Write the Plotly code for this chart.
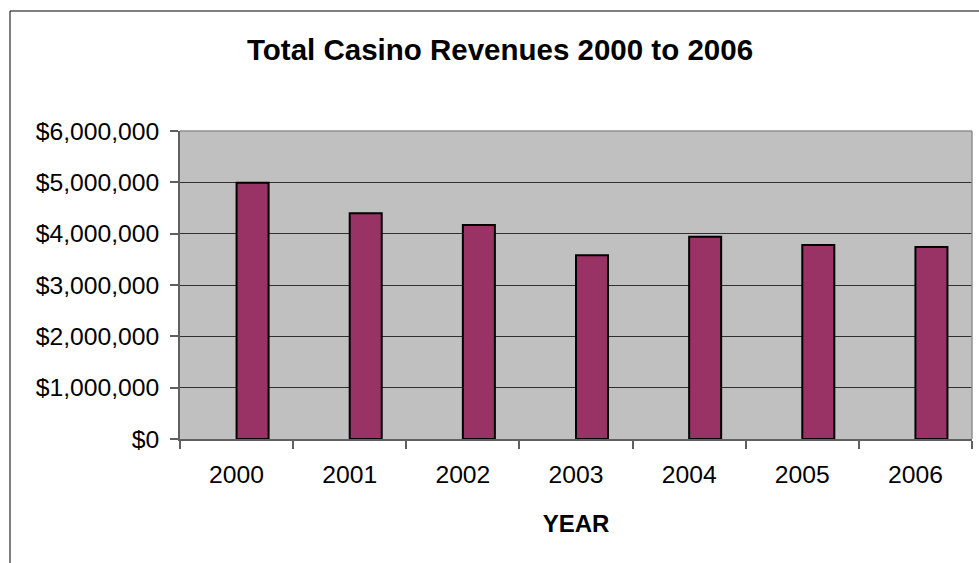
import plotly.graph_objects as go

# Annual casino revenue, in dollars
years = ["2000", "2001", "2002", "2003", "2004", "2005", "2006"]
revenues = [4990000, 4400000, 4170000, 3580000, 3940000, 3780000, 3740000]

y_ticks = [0, 1000000, 2000000, 3000000, 4000000, 5000000, 6000000]
y_tick_labels = ["$0", "$1,000,000", "$2,000,000", "$3,000,000",
                 "$4,000,000", "$5,000,000", "$6,000,000"]

FONT = "Liberation Sans, Arial, sans-serif"
TICK_SIZE = 24.7

fig = go.Figure(
    go.Bar(
        x=years,
        y=revenues,
        width=0.283,
        offset=0,  # bar sits in the right half of its category slot
        marker=dict(color="#993366", line=dict(color="#000000", width=2)),
        hoverinfo="x+y",
    )
)

fig.update_layout(
    width=979,
    height=563,
    margin=dict(l=180, r=7, t=131, b=124, autoexpand=False),
    paper_bgcolor="#ffffff",
    plot_bgcolor="#c0c0c0",
    showlegend=False,
    font=dict(family=FONT, size=TICK_SIZE, color="#000000"),
    title=dict(
        text="<b>Total Casino Revenues 2000 to 2006</b>",
        x=500 / 979,
        xref="container",
        xanchor="center",
        y=1 - 50 / 563,
        yanchor="middle",
        font=dict(family=FONT, size=29.5, color="#000000"),
    ),
    xaxis=dict(
        type="category",
        tickson="boundaries",
        ticks="outside",
        ticklen=8,
        tickcolor="#606060",
        tickwidth=1.5,
        showline=True,
        linecolor="#606060",
        linewidth=1.5,
        showgrid=False,
        tickfont=dict(family=FONT, size=TICK_SIZE, color="#000000"),
        ticklabelstandoff=13,
        title=dict(text="<b>YEAR</b>", font=dict(family=FONT, size=24, color="#000000"), standoff=28),
    ),
    yaxis=dict(
        range=[0, 6000000],
        tickvals=y_ticks,
        ticktext=y_tick_labels,
        ticks="outside",
        ticklen=8,
        tickcolor="#606060",
        tickwidth=1.5,
        showline=True,
        linecolor="#606060",
        linewidth=1.5,
        showgrid=True,
        gridcolor="#303030",
        gridwidth=1,
        zeroline=False,
        tickfont=dict(family=FONT, size=TICK_SIZE, color="#000000"),
        ticklabelstandoff=6,
    ),
    shapes=[
        # gray border on the top and right of the plot area
        dict(type="line", xref="paper", yref="paper", x0=0, x1=1, y0=1, y1=1,
             line=dict(color="#909090", width=1.5)),
        dict(type="line", xref="paper", yref="paper", x0=1, x1=1, y0=0, y1=1,
             line=dict(color="#909090", width=1.5)),
        # outer chart frame
        dict(type="rect", xref="paper", yref="paper",
             x0=(10 - 180) / 792, x1=1.2, y0=-0.6, y1=(439 - 11) / 308,
             line=dict(color="#000000", width=1), fillcolor="rgba(0,0,0,0)", layer="below"),
    ],
)

fig.write_html("out.html")
